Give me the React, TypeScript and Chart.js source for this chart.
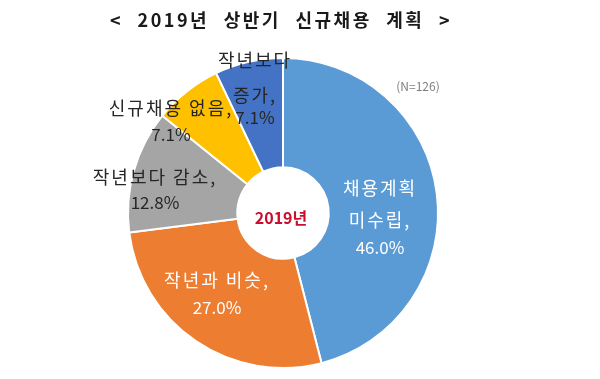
import React, { useEffect, useRef } from "react";
import { Chart, registerables } from "chart.js";

Chart.register(...registerables);

const TITLE = "< 2019년 상반기 신규채용 계획 >";
const CENTER_LABEL = "2019년";
const SAMPLE_NOTE = "(N=126)";

const categories = ["채용계획 미수립", "작년과 비슷", "작년보다 감소", "신규채용 없음", "작년보다 증가"];
const values = [46.0, 27.0, 12.8, 7.1, 7.1];
const colors = ["#5B9BD5", "#ED7D31", "#A5A5A5", "#FFC000", "#4472C4"];
// whether a category label breaks into one line per word
const labelBreak = [true, false, false, false, true];

// label placement relative to the doughnut centre (layout only)
const LABEL_LAYOUT = [
  { dx: 97, dys: [-25, 7, 35], color: "#FFFFFF" },
  { dx: -66, dys: [67, 95], color: "#FFFFFF" },
  { dx: -128, dys: [-36, -10], color: "#262626" },
  { dx: -112, dys: [-105, -78], color: "#262626" },
  { dx: -28, dys: [-153, -118, -95], color: "#262626" },
];

const FONT = '"Noto Sans CJK KR", "Noto Sans", sans-serif';

function buildLines(i: number): string[] {
  const words = labelBreak[i] ? categories[i].split(" ") : [categories[i]];
  const lines = words.slice();
  lines[lines.length - 1] = lines[lines.length - 1] + ",";
  lines.push(values[i].toFixed(1) + "%");
  return lines;
}

const textPlugin = {
  id: "textPlugin",
  afterDraw(chart: any) {
    const ctx = chart.ctx as CanvasRenderingContext2D;
    const arc = chart.getDatasetMeta(0).data[0];
    const cx = arc.x;
    const cy = arc.y;
    ctx.save();
    ctx.textAlign = "center";
    ctx.textBaseline = "middle";

    // title
    ctx.fillStyle = "#1a1a1a";
    ctx.font = `bold 18px ${FONT}`;
    (ctx as any).letterSpacing = "2.5px";
    (ctx as any).wordSpacing = "8px";
    ctx.fillText(TITLE, 281, 20);
    (ctx as any).letterSpacing = "0px";
    (ctx as any).wordSpacing = "0px";

    // sample note
    ctx.fillStyle = "#7f7f7f";
    ctx.font = `12px ${FONT}`;
    ctx.fillText(SAMPLE_NOTE, 418, 86);

    // center label
    ctx.fillStyle = "#C8102E";
    ctx.font = `bold 16px ${FONT}`;
    ctx.fillText(CENTER_LABEL, cx - 2, cy + 5);

    // slice labels
    for (let i = 0; i < categories.length; i++) {
      const lay = LABEL_LAYOUT[i];
      const lines = buildLines(i);
      ctx.fillStyle = lay.color;
      lines.forEach((ln, k) => {
        const isPct = k === lines.length - 1;
        ctx.font = isPct ? `17px ${FONT}` : `18px ${FONT}`;
        (ctx as any).letterSpacing = isPct ? "0px" : "2px";
        ctx.fillText(ln, cx + lay.dx, cy + lay.dys[k]);
      });
    }
    (ctx as any).letterSpacing = "0px";
    ctx.restore();
  },
};

export default function App() {
  const ref = useRef<HTMLCanvasElement | null>(null);
  useEffect(() => {
    if (!ref.current) return;
    const chart = new Chart(ref.current, {
      type: "doughnut",
      data: {
        labels: categories,
        datasets: [
          {
            data: values,
            backgroundColor: colors,
            borderColor: "#FFFFFF",
            borderWidth: 2,
          },
        ],
      },
      options: {
        responsive: false,
        animation: false,
        cutout: "29.5%",
        layout: { padding: { top: 57, bottom: 10, left: 127, right: 161 } },
        plugins: {
          legend: { display: false },
          tooltip: { enabled: false },
          title: { display: false },
        },
      },
      plugins: [textPlugin],
    });
    return () => chart.destroy();
  }, []);
  return (
    <div style={{ position: "fixed", left: 0, top: 0, width: 600, height: 379, background: "#fff" }}>
      <canvas ref={ref} width={600} height={379} style={{ width: 600, height: 379 }} />
    </div>
  );
}
